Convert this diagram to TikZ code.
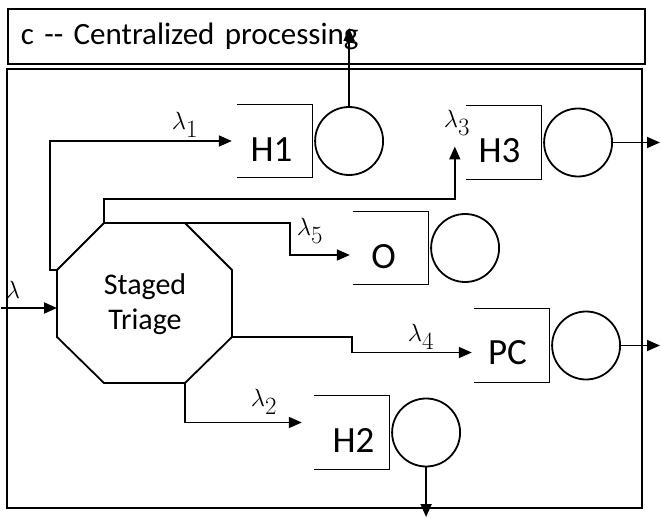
\documentclass[tikz,border=0pt]{standalone}
\usepackage{fontspec}
\setmainfont{Carlito}
\usetikzlibrary{arrows.meta, positioning}

\begin{document}
\begin{tikzpicture}[x=1pt, y=-1pt, >={Triangle[length=13pt, width=11pt]},
    frame/.style={draw, line width=1.8pt},
    queue/.style={minimum width=75pt, minimum height=73pt, inner sep=0pt},
    server/.style={circle, draw, line width=1.8pt, minimum size=68pt, inner sep=0pt},
    qname/.style={font=\fontsize{37}{37}\selectfont},
    rate/.style={font=\fontsize{35}{35}\selectfont},
    flow/.style={->, line width=1.8pt}]

    \useasboundingbox (0,0) rectangle (661,518);

    % frames
    \node[frame, anchor=north west, text width=611pt, minimum height=55pt, inner xsep=13pt,
          align=left, font=\fontsize{31}{31}\selectfont] (title) at (7,8) {c {-}{-} Centralized processing};
    \draw[frame] (7,69) rectangle (642,508);

    % triage octagon
    \coordinate (t1) at (104,223);
    \coordinate (t2) at (185,223);
    \coordinate (r1) at (232,270);
    \coordinate (r2) at (232,337);
    \coordinate (b2) at (185,383);
    \coordinate (b1) at (104,383);
    \coordinate (l2) at (57,337);
    \coordinate (l1) at (57,270);
    \draw[line width=1.8pt] (t1) -- (t2) -- (r1) -- (r2) -- (b2) -- (b1) -- (l2) -- (l1) -- cycle;
    \node[align=center, font=\fontsize{30}{35}\selectfont] (triage) at (145,304) {Staged\\Triage};

    % queues and servers
    \node[queue] (h1) at (274.5,141) {};
    \node[queue] (h3) at (503.5,142.5) {};
    \node[queue] (o) at (390.5,248) {};
    \node[queue] (pc) at (511.5,345.5) {};
    \node[queue] (h2) at (351.5,432.5) {};
    \foreach \q in {h1,h3,o,pc,h2}
        \draw[line width=0.9pt] (\q.north west) -- (\q.north east) -- (\q.south east) -- (\q.south west);

    \node[server, right=2pt of h1] (s1) {};
    \node[server, right=2pt of h3] (s3) {};
    \node[server, right=2pt of o] (so) {};
    \node[server, right=2pt of pc] (spc) {};
    \node[server, right=2pt of h2] (s2) {};

    \node[qname] (h1name) at ([xshift=-3pt, yshift=-9pt]h1.center) {H1};
    \node[qname] (h3name) at ([xshift=-4pt, yshift=-8pt]h3.center) {H3};
    \node[qname] (oname) at ([xshift=-7pt, yshift=-9pt]o.center) {O};
    \node[qname] (pcname) at ([xshift=-4pt, yshift=-7pt]pc.center) {PC};
    \node[qname] (h2name) at ([xshift=2pt, yshift=-8pt]h2.center) {H2};

    % arrivals
    \coordinate (src) at (1,308);
    \draw[flow] (src) -- (src -| l1);
    \node[rate] (lam) at (13,290) {$\lambda$};

    \draw[flow] (l1) -- ++(-7,0) |- ([xshift=-5pt]h1.west);
    \node[rate] (lam1) at (185,125) {$\lambda_1$};

    \draw[flow] (t1) -- ++(0,-24) -| ([xshift=-11pt, yshift=-4pt]h3.west);
    \node[rate] (lam3) at (457,123) {$\lambda_3$};

    \draw[flow] (t2) -- ++(105,0) |- ([xshift=-3pt, yshift=-7pt]o.west);
    \node[rate] (lam5) at (310,231) {$\lambda_5$};

    \draw[flow] (r2) -- ++(120,0) |- ([xshift=-2pt, yshift=-7pt]pc.west);
    \node[rate] (lam4) at (421,337) {$\lambda_4$};

    \draw[flow] (b2) |- ([xshift=-12pt, yshift=10pt]h2.west);
    \node[rate] (lam2) at (264,402) {$\lambda_2$};

    % departures
    \coordinate (out1) at (348,28);
    \coordinate (out3) at (660,141);
    \coordinate (outpc) at (660,345);
    \coordinate (out2) at (425,517);
    \draw[flow] (s1.north) -- (s1.north |- out1);
    \draw[flow] (s3.east) -- (s3.east -| out3);
    \draw[flow] (spc.east) -- (spc.east -| outpc);
    \draw[flow] (s2.south) -- (s2.south |- out2);

\end{tikzpicture}
\end{document}
